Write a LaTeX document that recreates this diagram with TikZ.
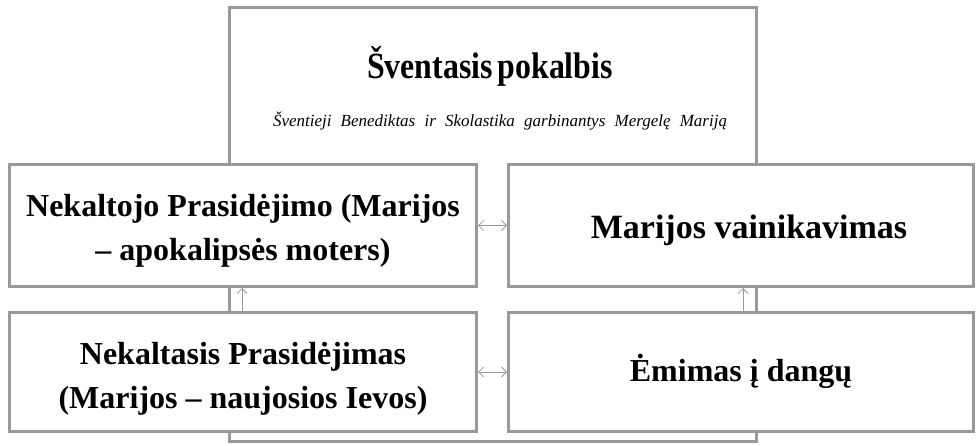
\documentclass[tikz,border=0pt]{standalone}
\usepackage{fontspec}
\setmainfont{Liberation Serif}
\newfontfamily\condserif[FakeStretch=0.86]{Liberation Serif}
\usetikzlibrary{arrows.meta}

\tikzset{
	box/.style={rectangle,draw=gray!80,line width=3pt,fill=white},
	boxtext/.style={align=center,font=\fontsize{32}{43.5}\selectfont\bfseries},
	link/.style={draw=gray!80,line width=0.8pt,{Straight Barb[length=5pt,width=10pt]}-{Straight Barb[length=5pt,width=10pt]}},
	uplink/.style={draw=gray!80,line width=0.8pt,-{Straight Barb[length=5pt,width=10pt]}}
}

\begin{document}
\begin{tikzpicture}[x=1pt,y=-1pt]
\useasboundingbox (0,0) rectangle (978,446);
% top box, it runs behind the four others
\node(Pokalbis) [box,minimum width=527,minimum height=434] at (492.5,225) {};
\path (490,79) node(Title) [anchor=base,font=\fontsize{37}{40}\condserif\bfseries] {Šventasis\hspace{-3pt} pokalbis}
		(500,127) node(Sub) [anchor=base,font=\fontsize{17}{20}\selectfont\itshape] {\makebox[454pt][s]{Šventieji Benediktas ir Skolastika garbinantys Mergelę Mariją}};
% the four boxes
\path (243,225.5) node(Apokalipse) [box,minimum width=467,minimum height=122] {}
		(741,225.5) node(Vainikavimas) [box,minimum width=465,minimum height=122] {}
		(243,372) node(Ieva) [box,minimum width=467,minimum height=119] {}
		(741,372) node(Emimas) [box,minimum width=465,minimum height=119] {};
% their texts
\path (243,231) node(ApokalipseText) [boxtext] {Nekaltojo Prasidėjimo (Marijos\\– apokalipsės moters)}
		(749,239) node(VainikavimasText) [boxtext,anchor=base,font=\fontsize{34}{40}\selectfont\bfseries] {Marijos vainikavimas}
		(243,379) node(IevaText) [boxtext] {Nekaltasis Prasidėjimas\\(Marijos – naujosios Ievos)}
		(741,382) node(EmimasText) [boxtext,anchor=base] {Ėmimas į dangų};
\coordinate (LeftUp) at (242,0);
\coordinate (RightUp) at (743,0);
\draw[link] (Apokalipse.east) -- (Vainikavimas.west);
\draw[link] (Ieva.east) -- (Emimas.west);
\draw[uplink] (Ieva.north -| LeftUp) -- (Apokalipse.south -| LeftUp);
\draw[uplink] (Emimas.north -| RightUp) -- (Vainikavimas.south -| RightUp);
\end{tikzpicture}
\end{document}
